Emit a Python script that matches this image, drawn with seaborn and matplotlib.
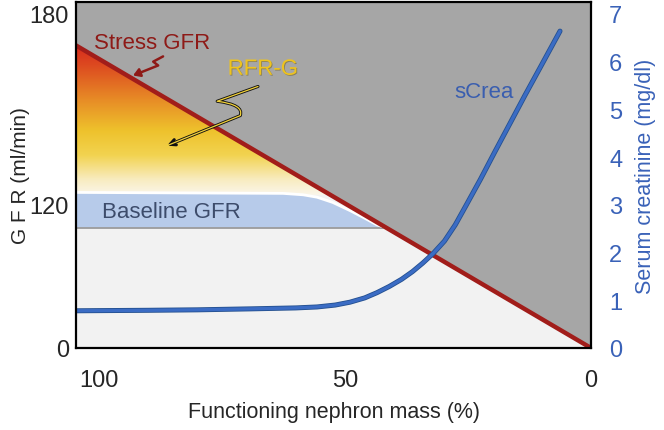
import numpy as np
import pandas as pd
import matplotlib
matplotlib.use("Agg")
import matplotlib.pyplot as plt
import matplotlib.patheffects as pe
from matplotlib.colors import LinearSegmentedColormap
from matplotlib.patches import Polygon
from matplotlib.path import Path
import matplotlib.patches as mpatches
import seaborn as sns

sns.set_style("white")
plt.rcParams['font.family'] = ['Liberation Sans', 'DejaVu Sans']

# x = functioning nephron mass (%), y in serum creatinine units (right axis, mg/dl)
# the left GFR axis is schematic: 0 / 120 / 180 ml/min sit at 0 / 3 / 7 on that scale
x_left, x_right = 104.7, 0.0
y_top = 7.25

stress_x = [104.7, 0.0]
stress_y = [6.34, 0.0]

screa_x = [104.7, 90, 80, 69.3, 60, 55.7, 52, 49, 46, 43.5, 41, 38.5, 36.3, 34.2, 32.1,
           29.8, 27.6, 25.6, 22.5, 19.5, 16.5, 13.4, 10, 6.3]
screa_y = [0.78, 0.79, 0.80, 0.82, 0.84, 0.86, 0.90, 0.96, 1.05, 1.16, 1.29, 1.44, 1.60, 1.78, 1.98,
           2.24, 2.58, 2.95, 3.53, 4.12, 4.70, 5.30, 5.94, 6.64]

band_x = [104.7, 62.6, 58.5, 55.7, 52.5, 49.0, 46.0, 43.5, 41.6]
band_top = [3.26, 3.24, 3.21, 3.16, 3.05, 2.88, 2.72, 2.58, 2.52]
band_bottom = 2.52

gfr_ticks = [0, 120, 180]
gfr_pos = [0, 3.0, 7.0]
crea_ticks = [0, 1, 2, 3, 4, 5, 6, 7]
x_ticks = [100, 50, 0]

red = "#a11d1a"
blue = "#3b6cc4"
label_blue = "#3a62b8"

fig = plt.figure(figsize=(6.64, 4.31), dpi=100)
ax = fig.add_axes([76 / 664, 1 - 349 / 431, (591 - 76) / 664, (349 - 3) / 431])
ax.set_facecolor("#f2f2f2")
ax.set_xlim(x_left, x_right)
ax.set_ylim(0, y_top)

# grey zone above the stress GFR line
ax.fill_between(stress_x, stress_y, y_top, color="#a6a6a6", lw=0, zorder=1)

# renal functional reserve gradient (under stress line, above baseline)
grad_cmap = LinearSegmentedColormap.from_list(
    "rfr", [(0.0, "#fbf6ea"), (0.1, "#f8ecc0"), (0.26, "#f2d350"), (0.42, "#eec22c"),
            (0.63, "#e78a26"), (0.85, "#dd4a20"), (1.0, "#d6261c")])
gy = np.linspace(0, 1, 256).reshape(-1, 1)
im = ax.imshow(gy, cmap=grad_cmap, origin="lower", aspect="auto",
               extent=[x_left, x_right, 3.2, 6.4], zorder=2)
clip = Polygon([(stress_x[0], band_bottom), (stress_x[0], stress_y[0]),
                (band_bottom * stress_x[0] / stress_y[0], band_bottom)],
               closed=True, transform=ax.transData)
im.set_clip_path(clip)
ax.fill_between([x_left, 60], band_bottom, 3.3, color="#fbf6ea", lw=0, zorder=1.9)

# baseline GFR band
ax.fill_between(band_x, band_bottom, band_top, color="#b7cbea", lw=0, zorder=3)
ax.plot(band_x, band_top, color="white", lw=2.0, zorder=3.2)
ax.plot([band_x[0], band_x[-1]], [band_bottom, band_bottom], color="#9c9c9c", lw=1.3, zorder=3.1)

# stress GFR and creatinine lines
sns.lineplot(x=stress_x, y=stress_y, color=red, lw=3.2, ax=ax, zorder=5)
line_df = pd.DataFrame({"mass": screa_x, "crea": screa_y})
sns.lineplot(data=line_df, x="mass", y="crea", sort=False, color=blue, lw=2.4, ax=ax, zorder=6,
             path_effects=[pe.Stroke(linewidth=3.6, foreground="#24508f"), pe.Normal()])

# labels inside the plot
ax.text(89.2, 6.41, "Stress GFR", color="#8e1a17", fontsize=16, ha="center", va="center", zorder=7)
ax.text(66.7, 5.84, "RFR-G", color="#eec31e", fontsize=16, ha="center", va="center", zorder=7,
        path_effects=[pe.withSimplePatchShadow(offset=(0.6, -0.6), shadow_rgbFace="#6b5a10", alpha=0.5)])
ax.text(21.7, 5.38, "sCrea", color="#3a5eaf", fontsize=16, ha="center", va="center", zorder=7)
ax.text(99.4, 2.86, "Baseline GFR", color="#3d4c6b", fontsize=16, ha="left", va="center", zorder=7)

# zig-zag arrows
stress_arrow = [(87.0, 6.11), (89.0, 6.0), (88.0, 5.92), (93.1, 5.71)]
p = Path(stress_arrow, [Path.MOVETO] + [Path.LINETO] * 3)
ax.add_patch(mpatches.FancyArrowPatch(path=p, arrowstyle="-|>,head_length=4,head_width=2.5",
                                      color="#8e1a17", lw=1.8, zorder=7))

rfr_arrow = [(67.7, 5.48), (76.0, 5.17), (70.5, 5.10), (71.3, 4.87), (86.2, 4.24)]
rp = Path(rfr_arrow, [Path.MOVETO, Path.LINETO, Path.CURVE3, Path.CURVE3, Path.LINETO])
ax.add_patch(mpatches.FancyArrowPatch(path=rp, arrowstyle="->,head_length=4,head_width=2",
                                      color="#111111", lw=2.2, zorder=7))
ax.add_patch(mpatches.FancyArrowPatch(path=rp, arrowstyle="-", color="#f2d23a", lw=0.9, zorder=7.1))

# axes, ticks, labels
for s in ax.spines.values():
    s.set_color("black")
    s.set_linewidth(1.6)
    s.set_zorder(8)

ax.set_xticks(x_ticks)
ax.set_xticklabels([str(v) for v in x_ticks])
ax.tick_params(axis="x", length=0, pad=15, labelsize=17)
ax.set_xlabel("Functioning nephron mass (%)", fontsize=15.5, labelpad=7)

ax.yaxis.tick_right()
ax.yaxis.set_label_position("right")
ax.set_yticks(crea_ticks)
ax.tick_params(axis="y", length=0, pad=13, labelsize=17, labelcolor=label_blue)
ax.set_ylabel("Serum creatinine (mg/dl)", fontsize=15.5, color=label_blue, labelpad=9)

fwd = lambda v: np.interp(v, gfr_pos + [8.0], gfr_ticks + [195])
inv = lambda v: np.interp(v, gfr_ticks + [195], gfr_pos + [8.0])
sec = ax.secondary_yaxis("left", functions=(fwd, inv))
sec.set_yticks(gfr_ticks)
sec.tick_params(length=0, pad=5, labelsize=17)
sec.spines["left"].set_visible(False)
sec.set_ylabel("G F R (ml/min)", fontsize=15, labelpad=0)

fig.savefig("out.png", dpi=100)
